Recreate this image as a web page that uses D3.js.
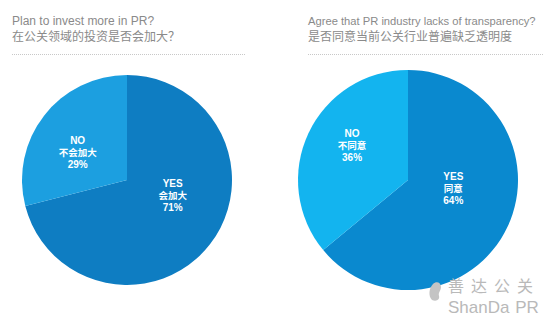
<!DOCTYPE html>
<html>
<head>
<meta charset="utf-8">
<script src="https://cdn.jsdelivr.net/npm/d3@7/dist/d3.min.js"></script>
<style>
  html, body { margin: 0; padding: 0; background: #fff; }
  svg { display: block; }
</style>
</head>
<body>
<svg id="chart" width="550" height="329"></svg>
<script>
// Survey answers, one pie per question
const questionsEn = ["Plan to invest more in PR?", "Agree that PR industry lacks of transparency?"];
const questionsZh = ["在公关领域的投资是否会加大？", "是否同意当前公关行业普遍缺乏透明度"];
const answerKeys = ["YES", "NO"];
const answerZh = [["会加大", "不会加大"], ["同意", "不同意"]];
const answerValues = [[71, 29], [64, 36]];
const sliceColors = [["#0e7dc2", "#1c9fe0"], ["#0a89cf", "#13b4ef"]];

// Pie layout per panel
const panels = [
  { cx: 127, cy: 180, r: 105, titleX: 12, titleSize: 12, ruleEnd: 245 },
  { cx: 408, cy: 180, r: 110, titleX: 308, titleSize: 11.2, ruleEnd: 543 }
];
// Label anchors as (angle in degrees clockwise from 12 o'clock, distance from centre)
const labelPolar = [
  [[108, 48], [-60, 57]],
  [[100, 46], [-58, 66]]
];

const svg = d3.select("#chart");

panels.forEach((p, i) => {
  const g = svg.append("g");

  // Question titles
  g.append("text")
    .attr("x", p.titleX).attr("y", 24.5)
    .attr("font-family", "Liberation Sans, Arial, sans-serif")
    .attr("font-size", p.titleSize).attr("fill", "#8a8a8a")
    .text(questionsEn[i]);
  g.append("text")
    .attr("x", p.titleX).attr("y", 40.5)
    .attr("font-family", "Noto Sans CJK SC, sans-serif")
    .attr("font-size", 12).attr("fill", "#8a8a8a")
    .text(questionsZh[i]);

  // Dotted rule under the title
  g.append("line")
    .attr("x1", p.titleX).attr("x2", p.ruleEnd)
    .attr("y1", 54.5).attr("y2", 54.5)
    .attr("stroke", "#c8c8c8").attr("stroke-width", 1)
    .attr("stroke-dasharray", "1,1");

  // Pie: YES runs clockwise from 12 o'clock, NO fills the rest
  const data = answerKeys.map((k, j) => ({ key: k, zh: answerZh[i][j], value: answerValues[i][j], color: sliceColors[i][j], j }));
  const pie = d3.pie().value(d => d.value).sort(null);
  const arc = d3.arc().innerRadius(0).outerRadius(p.r);

  const pg = g.append("g").attr("transform", `translate(${p.cx},${p.cy})`);
  pg.selectAll("path")
    .data(pie(data))
    .join("path")
    .attr("d", arc)
    .attr("fill", d => d.data.color);

  // Slice labels
  const lbl = pg.selectAll("g.lbl")
    .data(data)
    .join("g")
    .attr("class", "lbl")
    .attr("transform", d => {
      const [deg, dist] = labelPolar[i][d.j];
      const a = deg * Math.PI / 180;
      return `translate(${dist * Math.sin(a)},${-dist * Math.cos(a)})`;
    });
  lbl.each(function (d) {
    const lines = [d.key, d.zh, d.value + "%"];
    const t = d3.select(this);
    lines.forEach((s, k) => {
      t.append("text")
        .attr("y", (k - 1) * 12 + 4)
        .attr("text-anchor", "middle")
        .attr("font-family", k === 1 ? "Noto Sans CJK SC, sans-serif" : "Liberation Sans, Arial, sans-serif")
        .attr("font-size", k === 1 ? 9.5 : 10)
        .attr("font-weight", "bold")
        .attr("fill", "#ffffff")
        .text(s);
    });
  });
});

// Brand mark, bottom right
const wm = svg.append("g").attr("fill", "#b9b9b9");
wm.append("path")
  .attr("d", "M432,300 C428,296 429,288 433,284 C436,281 441,282 441,287 C441,291 438,292 439,296 C440,299 437,302 432,300 Z")
  .attr("fill", "#c4c4c4");
wm.append("text")
  .attr("x", 448).attr("y", 291.5)
  .attr("font-family", "Noto Sans CJK SC, sans-serif")
  .attr("font-size", 16).attr("letter-spacing", 7)
  .text("善达公关");
wm.append("text")
  .attr("x", 448).attr("y", 312.5)
  .attr("font-family", "Liberation Sans, Arial, sans-serif")
  .attr("font-size", 17)
  .attr("word-spacing", 1)
  .text("ShanDa PR");
</script>
</body>
</html>
